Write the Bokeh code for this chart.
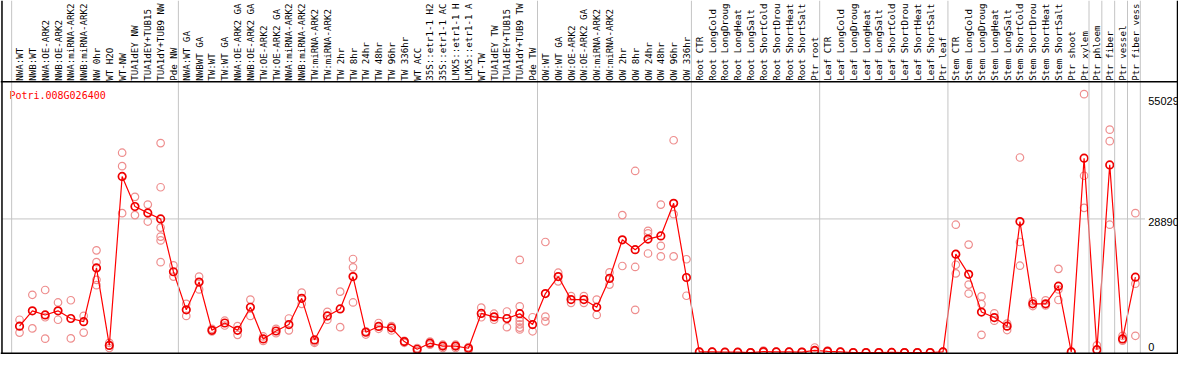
import math
from bokeh.plotting import figure
from bokeh.models import Range1d, Span, ColumnDataSource
from bokeh.core.properties import value
from bokeh.embed import file_html
from bokeh.resources import INLINE

gene = "Potri.008G026400"

samples = [
    "NWA:WT", "NWB:WT", "NWA:OE-ARK2", "NWB:OE-ARK2", "NWA:miRNA-ARK2", "NWB:miRNA-ARK2",
    "NW 0hr", "WT H2O", "WT-NW", "TUA1dEY NW", "TUA1dEY+TUB15", "TUA1dY+TUB9 NW", "Pde NW",
    "NWA:WT GA", "NWBWT GA", "TW:WT", "TW:WT GA", "NWA:OE-ARK2 GA", "NWB:OE-ARK2 GA",
    "TW:OE-ARK2", "TW:OE-ARK2 GA", "NWA:miRNA-ARK2", "NWB:miRNA-ARK2", "TW:miRNA-ARK2",
    "TW:miRNA-ARK2", "TW 2hr", "TW 8hr", "TW 24hr", "TW 48hr", "TW 96hr", "TW 336hr", "WT ACC",
    "35S::etr1-1 H2", "35S::etr1-1 AC", "LMX5::etr1-1 H", "LMX5::etr1-1 A", "WT-TW",
    "TUA1dEY TW", "TUA1dEY+TUB15", "TUA1dY+TUB9 TW", "Pde TW",
    "OW:WT", "OW:WT GA", "OW:OE-ARK2", "OW:OE-ARK2 GA", "OW:miRNA-ARK2", "OW:miRNA-ARK2",
    "OW 2hr", "OW 8hr", "OW 24hr", "OW 48hr", "OW 96hr", "OW 336hr",
    "Root CTR", "Root LongCold", "Root LongDroug", "Root LongHeat", "Root LongSalt",
    "Root ShortCold", "Root ShortDrou", "Root ShortHeat", "Root ShortSalt", "Ptr root",
    "Leaf CTR", "Leaf LongCold", "Leaf LongDroug", "Leaf LongHeat", "Leaf LongSalt",
    "Leaf ShortCold", "Leaf ShortDrou", "Leaf ShortHeat", "Leaf ShortSalt", "Ptr leaf",
    "Stem CTR", "Stem LongCold", "Stem LongDroug", "Stem LongHeat", "Stem LongSalt",
    "Stem ShortCold", "Stem ShortDrou", "Stem ShortHeat", "Stem ShortSalt", "Ptr shoot",
    "Ptr xylem", "Ptr phloem", "Ptr fiber", "Ptr vessel", "Ptr fiber vess",
]

# index of the last sample in each group (gray separators drawn after them)
group_ends = [12, 40, 52, 62, 72, 83, 84, 85, 86, 87]

means = [
    5706, 9026, 8134, 9026, 7366, 6681, 18300, 1556, 38076, 31580, 30191, 28884, 17471,
    9234, 15251, 4814, 6391, 4814, 9794, 2946, 4669, 6059, 11724, 2739, 7926, 9441, 16434,
    4399, 5644, 5354, 2386, 726, 2033, 1411, 1411, 934, 8466, 7719, 7366, 8404, 6059,
    12761, 16434, 11454, 11454, 9794, 16019, 24381, 22244, 24526, 25211, 32266, 16226,
    145, 145, 80, 80, 0, 215, 145, 145, 110, 475,
    270, 145, 0, 0, 0, 40, 0, 0, 0, 145,
    21270, 16910, 8760, 7570, 5710, 28320, 10540, 10540, 14360, 145,
    42020, 620, 40570, 2950, 16290,
]

replicates = [
    [7097, 4316], [12491, 5229], [13529, 7636, 3009], [10832, 7097], [11309, 3071],
    [7926, 4316], [22099, 19546, 15729, 14566], [2117, 996], [43202, 40297, 30129],
    [33657, 29714], [31996, 28324], [45277, 35732, 27017, 25066, 24236, 19546],
    [18841, 16434],
    [10541, 7926], [16434, 13654], [5146, 4600], [6889, 5851], [5706, 3839],
    [11454, 7926], [3486, 2531], [5146, 4192], [7366, 4814], [12969, 10541],
    [2386, 2117], [8819, 7097], [13176, 5499], [20231, 18426, 10832], [4600, 3900],
    [6391, 5146], [5706, 4800], [2531, 2117], [996, 300], [2386, 1700], [1700, 996],
    [1700, 996], [1200, 500], [9711, 7636], [8404, 7097], [8881, 5499],
    [20024, 10002, 7500, 6800, 6100, 5400, 5000], [7636, 4606],
    [23904, 7781, 6744], [17264, 15397], [12200, 10749], [12200, 10749],
    [11454, 8134], [17326, 14690], [29714, 18716], [39258, 18509, 9234],
    [26311, 25771, 21414], [31996, 23074, 20791], [45899, 29922, 20791], [20169, 12284],
    [200, 90], [200, 90], [120, 40], [120, 40], [40, 0], [420, 60], [200, 90], [200, 90],
    [150, 60], [1100, 300],
    [420, 150], [200, 90], [40, 0], [40, 0], [40, 0], [80, 0], [40, 0], [40, 0], [40, 0],
    [200, 90],
    [27639, 18986, 17119], [23344, 14690, 12761], [12139, 10479, 3839], [8466, 6889],
    [6266, 4876], [42164, 23904, 18779], [11101, 10064], [11301, 10200],
    [18094, 13654, 11371], [200, 90],
    [55860, 38221, 31291], [1556, 519], [48181, 45692, 27639], [3631, 2594],
    [30129, 14899, 3631],
]

ticks = [0, 28890, 55029]

# ---- layout (reference pixel geometry) ----
REF_W, REF_H = 1194, 370
W, H = 1178, 354
COL_PX = 13.0        # pixels per sample column
X0_PX = 19.3         # centre of first column
ZERO_PX = 368.0      # vertical pixel of value 0
UNITS_PER_PX = 206.8


def xv(px):
    return (px - X0_PX) / COL_PX


def yv(px):
    return (ZERO_PX - px) * UNITS_PER_PX


p = figure(width=W, height=H, output_backend="svg", toolbar_location=None,
           x_range=Range1d(xv(0), xv(REF_W)), y_range=Range1d(yv(REF_H), yv(0)),
           x_axis_location=None, y_axis_location=None, min_border=0,
           background_fill_color="white", border_fill_color="white")
p.outline_line_color = None
p.grid.grid_line_color = None

GRAY = "#c4c4c4"
# group separators
bounds = [-1] + group_ends
for b in bounds:
    p.add_layout(Span(location=b + 1 - 8 / COL_PX, dimension="height",
                      line_color=GRAY, line_width=1))

# frame lines
p.add_layout(Span(location=xv(1.5), dimension="height", line_color="black", line_width=1.5))
p.add_layout(Span(location=xv(1193), dimension="height", line_color="black", line_width=1.5))
p.add_layout(Span(location=yv(85), dimension="width", line_color="black", line_width=1.5))
p.add_layout(Span(location=yv(368.6), dimension="width", line_color="black", line_width=1.5))

# horizontal grid line at middle tick
n = len(samples)
mid_ticks = [t for t in ticks if 0 < t < max(ticks)]
p.segment(x0=[xv(1.5)] * len(mid_ticks), y0=mid_ticks,
          x1=[n - 0.25] * len(mid_ticks), y1=mid_ticks, line_color=GRAY, line_width=1)

# replicates
rx, ry = [], []
for i, reps in enumerate(replicates):
    for r in reps:
        rx.append(i)
        ry.append(r)
p.scatter(rx, ry, marker="circle", size=7.5, fill_color=None,
          line_color="#ee8e8e", line_width=1.2)

# means
xs = list(range(n))
p.line(xs, means, line_color="#ff0000", line_width=1.2)
p.scatter(xs, means, marker="circle", size=7.5, fill_color=None,
          line_color="#ee0000", line_width=1.7)

mono = value("DejaVu Sans Mono")

# sample labels (header)
p.text(x=xs, y=[yv(84)] * n, text=samples, angle=math.pi / 2,
       text_align="left", text_baseline="middle", text_font=mono,
       text_font_size="9.2px", text_color="black")

# gene title
p.text(x=[xv(9)], y=[yv(99.8)], text=[gene], text_align="left",
       text_baseline="alphabetic", text_font=mono, text_font_size="10px",
       text_color="#ff0000")

# value labels on the right
upper = [t for t in ticks if t > 0]
p.text(x=[n] * len(upper), y=upper, text=[str(t) for t in upper], text_align="left",
       text_baseline="top", y_offset=-1, text_font=value("Liberation Sans"),
       text_font_size="11px", text_color="black")
p.text(x=[n], y=[0], text=["0"], text_align="left", text_baseline="bottom",
       y_offset=-2, text_font=value("Liberation Sans"), text_font_size="11px",
       text_color="black")

open("out.html", "w").write(file_html(p, INLINE))
